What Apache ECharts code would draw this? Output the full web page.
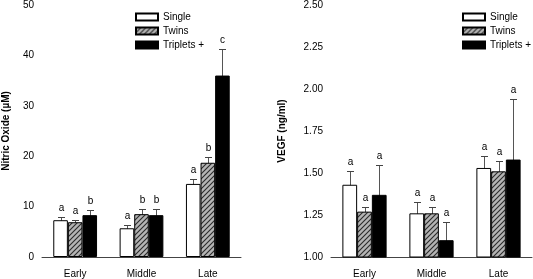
<!DOCTYPE html>
<html>
<head>
<meta charset="utf-8">
<script src="https://cdn.jsdelivr.net/npm/echarts@6/dist/echarts.min.js"></script>
<style>
  html, body { margin: 0; padding: 0; background: #fff; }
  #chart { width: 533px; height: 279px; }
</style>
</head>
<body>
<div id="chart"></div>
<script>
const categories = ['Early', 'Middle', 'Late'];
const groups = ['Single', 'Twins', 'Triplets +'];

// Nitric oxide (uM): mean and top of error bar
const noSingle = [7.3, 5.7, 14.5];
const noSingleErr = [8.0, 6.3, 15.5];
const noTwins = [6.9, 8.5, 18.7];
const noTwinsErr = [7.4, 9.6, 19.8];
const noTriplets = [8.3, 8.3, 36.0];
const noTripletsErr = [9.4, 9.6, 41.3];
const noSingleLetters = ['a', 'a', 'a'];
const noTwinsLetters = ['a', 'b', 'b'];
const noTripletsLetters = ['b', 'b', 'c'];

// VEGF (ng/ml)
const vegfSingle = [1.43, 1.26, 1.53];
const vegfSingleErr = [1.51, 1.33, 1.60];
const vegfTwins = [1.27, 1.26, 1.51];
const vegfTwinsErr = [1.30, 1.30, 1.57];
const vegfTriplets = [1.37, 1.10, 1.58];
const vegfTripletsErr = [1.55, 1.21, 1.94];
const vegfSingleLetters = ['a', 'a', 'a'];
const vegfTwinsLetters = ['a', 'a', 'a'];
const vegfTripletsLetters = ['a', 'a', 'a'];

const FONT = 'Liberation Sans, Arial, sans-serif';
const BAR_W = 0.22;

// grey fill with //// hatching for the twins bars
const hatch = (() => {
  const s = 5;
  const c = document.createElement('canvas');
  c.width = s; c.height = s;
  const g = c.getContext('2d');
  g.fillStyle = '#b4b4b4';
  g.fillRect(0, 0, s, s);
  g.strokeStyle = '#2a2a2a';
  g.lineWidth = 1.1;
  g.beginPath();
  g.moveTo(0, s); g.lineTo(s, 0);
  g.moveTo(-1, 1); g.lineTo(1, -1);
  g.moveTo(s - 1, s + 1); g.lineTo(s + 1, s - 1);
  g.stroke();
  return { image: c, repeat: 'repeat' };
})();

const fills = ['#ffffff', hatch, '#000000'];

const barSeries = (name, idx, data, axis) => ({
  name,
  type: 'bar',
  xAxisIndex: axis,
  yAxisIndex: axis,
  data,
  barWidth: '22%',
  barGap: '0%',
  itemStyle: { color: fills[idx], borderColor: '#000', borderWidth: 1 },
  z: 2
});

const errSeries = (idx, errs, letters, axis) => ({
  type: 'custom',
  xAxisIndex: axis,
  yAxisIndex: axis,
  data: errs.map((e, i) => [i, e, letters[i]]),
  z: 1,
  renderItem: (params, api) => {
    const catW = api.size([1, 0])[0];
    const bw = catW * BAR_W;
    const p = api.coord([api.value(0), api.value(1)]);
    const x = Math.round(p[0] + (idx - 1) * bw) + 0.5;
    const y = Math.round(p[1]) + 0.5;
    const base = api.coord([api.value(0), axis === 0 ? 0 : 1])[1];
    const cap = 3.5;
    return {
      type: 'group',
      children: [
        { type: 'line', shape: { x1: x, y1: base, x2: x, y2: y }, style: { stroke: '#555', lineWidth: 1 } },
        { type: 'line', shape: { x1: x - cap, y1: y, x2: x + cap, y2: y }, style: { stroke: '#444', lineWidth: 1 } },
        { type: 'text', x: x, y: y - 4, style: { text: api.value(2), font: '10px ' + FONT, fill: '#000', align: 'center', verticalAlign: 'bottom' } }
      ]
    };
  }
});

const axisCommon = {
  axisLine: { lineStyle: { color: '#444', width: 1 } },
  axisTick: { lineStyle: { color: '#444' }, length: 4 },
  splitLine: { show: false },
  axisLabel: { color: '#000', fontSize: 10, fontFamily: FONT }
};

const legendCommon = {
  orient: 'vertical',
  data: groups.map(name => ({ name, icon: 'rect' })),
  itemWidth: 22,
  itemHeight: 7,
  itemGap: 4,
  textStyle: { fontSize: 10, fontFamily: FONT, color: '#000' },
  selectedMode: false
};

const option = {
  animation: false,
  legend: [
    { ...legendCommon, left: 130, top: 7 },
    { ...legendCommon, left: 457, top: 7 }
  ],
  grid: [
    { left: 41, width: 200, top: 4, height: 254 },
    { left: 331, width: 201, top: 4, height: 254 }
  ],
  xAxis: [0, 1].map(g => ({
    ...axisCommon,
    type: 'category',
    gridIndex: g,
    data: categories,
    axisTick: { ...axisCommon.axisTick, alignWithLabel: true },
    axisLabel: { ...axisCommon.axisLabel, margin: 12 }
  })),
  yAxis: [
    {
      ...axisCommon,
      type: 'value', gridIndex: 0, min: 0, max: 50, interval: 10,
      name: 'Nitric Oxide (\u00b5M)', nameLocation: 'middle', nameGap: 31,
      nameTextStyle: { fontWeight: 'bold', fontSize: 10, fontFamily: FONT, color: '#000' },
      axisLabel: { ...axisCommon.axisLabel, margin: 8 }
    },
    {
      ...axisCommon,
      type: 'value', gridIndex: 1, min: 1, max: 2.5, interval: 0.25,
      name: 'VEGF (ng/ml)', nameLocation: 'middle', nameGap: 44,
      nameTextStyle: { fontWeight: 'bold', fontSize: 10, fontFamily: FONT, color: '#000' },
      axisLabel: { ...axisCommon.axisLabel, margin: 8, formatter: v => v.toFixed(2) }
    }
  ],
  series: [
    barSeries('Single', 0, noSingle, 0),
    barSeries('Twins', 1, noTwins, 0),
    barSeries('Triplets +', 2, noTriplets, 0),
    errSeries(0, noSingleErr, noSingleLetters, 0),
    errSeries(1, noTwinsErr, noTwinsLetters, 0),
    errSeries(2, noTripletsErr, noTripletsLetters, 0),
    barSeries('Single', 0, vegfSingle, 1),
    barSeries('Twins', 1, vegfTwins, 1),
    barSeries('Triplets +', 2, vegfTriplets, 1),
    errSeries(0, vegfSingleErr, vegfSingleLetters, 1),
    errSeries(1, vegfTwinsErr, vegfTwinsLetters, 1),
    errSeries(2, vegfTripletsErr, vegfTripletsLetters, 1)
  ]
};

const chart = echarts.init(document.getElementById('chart'));
chart.setOption(option);
</script>
</body>
</html>
